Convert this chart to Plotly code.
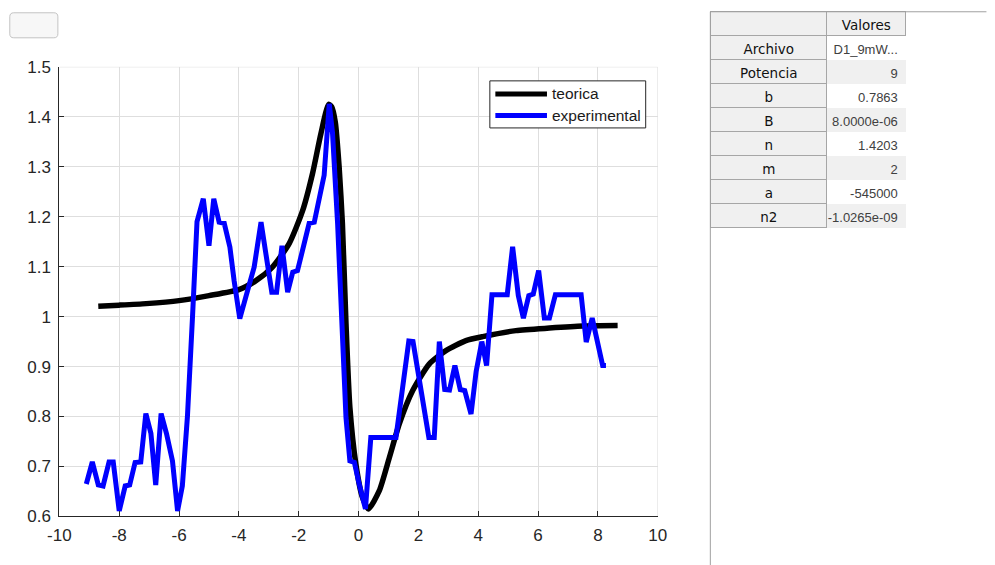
import plotly.graph_objects as go

# ---- data -------------------------------------------------------------
series_names = ["teorica", "experimental"]

x_teo = [-8.70, -8.00, -7.10, -6.00, -5.00, -4.00, -3.43, -2.88, -2.32, -1.87,
         -1.54, -1.26, -1.00, -0.90, -0.78, -0.65, -0.54, -0.42, -0.29, -0.09,
         0.13, 0.33, 0.69, 1.03, 1.36, 1.81, 2.36, 2.92, 3.59, 4.15,
         5.26, 6.38, 7.49, 8.66]
y_teo = [1.021, 1.023, 1.026, 1.032, 1.042, 1.054, 1.072, 1.099, 1.146, 1.212,
         1.286, 1.366, 1.425, 1.420, 1.390, 1.300, 1.186, 0.986, 0.818, 0.705,
         0.638, 0.615, 0.651, 0.718, 0.785, 0.852, 0.905, 0.932, 0.952, 0.960,
         0.972, 0.977, 0.981, 0.982]

x_exp = [-9.10, -8.90, -8.70, -8.54, -8.34, -8.20, -8.00, -7.80, -7.65, -7.47,
         -7.28, -7.11, -6.94, -6.78, -6.60, -6.42, -6.22, -6.05, -5.89, -5.72,
         -5.55, -5.40, -5.19, -5.00, -4.84, -4.66, -4.49, -4.30, -4.16, -3.97,
         -3.77, -3.49, -3.26, -3.08, -2.90, -2.74, -2.56, -2.37, -2.20, -2.04,
         -1.82, -1.65, -1.48, -1.31, -1.15, -0.98, -0.87, -0.70, -0.59, -0.51,
         -0.42, -0.29, -0.14, 0.02, 0.23, 0.41, 1.25, 1.68, 1.82, 2.35,
         2.53, 2.70, 2.88, 3.04, 3.22, 3.40, 3.55, 3.76, 3.93, 4.12,
         4.28, 4.46, 4.97, 5.15, 5.34, 5.51, 5.69, 5.84, 6.02, 6.21,
         6.38, 6.58, 7.44, 7.61, 7.81, 8.16, 8.27]
y_exp = [0.665, 0.709, 0.663, 0.661, 0.709, 0.709, 0.611, 0.661, 0.663, 0.708,
         0.709, 0.806, 0.766, 0.663, 0.806, 0.766, 0.711, 0.611, 0.661, 0.800,
         1.000, 1.190, 1.236, 1.142, 1.236, 1.189, 1.187, 1.139, 1.072, 0.996,
         1.039, 1.099, 1.189, 1.112, 1.049, 1.049, 1.142, 1.049, 1.089, 1.092,
         1.142, 1.187, 1.189, 1.232, 1.283, 1.426, 1.367, 1.186, 1.045, 0.918,
         0.798, 0.711, 0.708, 0.665, 0.615, 0.758, 0.758, 0.951, 0.950, 0.758,
         0.758, 0.950, 0.854, 0.853, 0.902, 0.854, 0.852, 0.805, 0.890, 0.950,
         0.902, 1.044, 1.044, 1.140, 1.042, 0.997, 1.042, 1.045, 1.092, 0.997,
         0.997, 1.044, 1.044, 0.949, 0.997, 0.902, 0.902]

x_ticks = [-10, -8, -6, -4, -2, 0, 2, 4, 6, 8, 10]
x_tick_labels = ["-10", "-8", "-6", "-4", "-2", "0", "2", "4", "6", "8", "10"]
y_ticks = [0.6, 0.7, 0.8, 0.9, 1.0, 1.1, 1.2, 1.3, 1.4, 1.5]
y_tick_labels = ["0.6", "0.7", "0.8", "0.9", "1", "1.1", "1.2", "1.3", "1.4", "1.5"]

table_header = ["", "Valores"]
param_names = ["Archivo", "Potencia", "b", "B", "n", "m", "a", "n2"]
param_values = ["D1_9mW...", "9", "0.7863", "8.0000e-06", "1.4203", "2",
                "-545000", "-1.0265e-09"]

# ---- geometry ---------------------------------------------------------
# Positions are laid out on a 995 x 565 design grid and converted to
# paper fractions of the figure, which sits inside the page body margin.
VIEW_W, VIEW_H = 995, 565
GRID_W, GRID_H = 1012, 585
BODY_MARGIN = 8
W, H = GRID_W - BODY_MARGIN, GRID_H - BODY_MARGIN
SHIFT_X, STRETCH_X, SHIFT_Y = 4.9, 0.9936, 1.0
PLOT_L, PLOT_R, PLOT_T, PLOT_B = 60, 657, 66.5, 515.5


def px(x):
    x = (x - SHIFT_X) / STRETCH_X
    return (x * GRID_W / VIEW_W - BODY_MARGIN) / W


def py(y):
    y = y - SHIFT_Y
    return 1 - (y * GRID_H / VIEW_H - BODY_MARGIN) / H


series_colors = ["#000000", "#0000ff"]

fig = go.Figure()
fig.add_trace(go.Scatter(
    x=x_teo, y=y_teo, mode="lines", name=series_names[0],
    line=dict(color=series_colors[0], width=5.5, shape="spline", smoothing=0.6),
    showlegend=False, hoverinfo="x+y"))
fig.add_trace(go.Scatter(
    x=x_exp, y=y_exp, mode="lines", name=series_names[1],
    line=dict(color=series_colors[1], width=5),
    showlegend=False, hoverinfo="x+y"))

# parameter table
n_rows = len(param_names)
value_fill = ["#ffffff" if i % 2 == 0 else "#f0f0f0" for i in range(n_rows)]
fig.add_trace(go.Table(
    domain=dict(x=[px(710), px(905)], y=[0, py(11.5)]),
    columnwidth=[116, 79],
    header=dict(
        values=table_header,
        fill_color="#f0f0f0",
        line_color=["#a6a6a6", "#a6a6a6"],
        align=["center", "center"],
        font=dict(family="DejaVu Sans", size=13.5, color="#111111"),
        height=24,
    ),
    cells=dict(
        values=[param_names, param_values],
        fill_color=[["#f0f0f0"] * n_rows, value_fill],
        line_color=["#a6a6a6", "rgba(0,0,0,0)"],
        align=["center", "right"],
        font=dict(family=["DejaVu Sans", "Liberation Sans"], size=[13.5, 13],
                  color=["#111111", "#404040"]),
        height=24,
    ),
))

shapes = []
# light frame on the top and right edges of the axes
shapes.append(dict(type="line", xref="x", yref="y", x0=-10, x1=10, y0=1.5, y1=1.5,
                   line=dict(color="#dedede", width=1), layer="below"))
shapes.append(dict(type="line", xref="x", yref="y", x0=10, x1=10, y0=0.6, y1=1.5,
                   line=dict(color="#dedede", width=1), layer="below"))

# legend box
LG_L, LG_R, LG_T, LG_B = 489.5, 645, 80.5, 127.5
shapes.append(dict(type="rect", xref="paper", yref="paper",
                   x0=px(LG_L), x1=px(LG_R), y0=py(LG_B), y1=py(LG_T),
                   fillcolor="#ffffff", line=dict(color="#262626", width=1)))
legend_rows = [93.5, 115]
annotations = []
for name, color, yy in zip(series_names, series_colors, legend_rows):
    shapes.append(dict(type="line", xref="paper", yref="paper",
                       x0=px(495), x1=px(546.5), y0=py(yy), y1=py(yy),
                       line=dict(color=color, width=5)))
    annotations.append(dict(xref="paper", yref="paper", x=px(549.5), y=py(yy),
                            xanchor="left", yanchor="middle", text=name,
                            showarrow=False,
                            font=dict(family="Liberation Sans", size=15.5,
                                      color="#1a1a1a")))

# table container frame
shapes.append(dict(type="line", xref="paper", yref="paper",
                   x0=px(709.5), x1=px(709.5), y0=0, y1=py(11.5),
                   line=dict(color="#a0a0a0", width=1)))
shapes.append(dict(type="line", xref="paper", yref="paper",
                   x0=px(709.5), x1=px(985), y0=py(11.5), y1=py(11.5),
                   line=dict(color="#a0a0a0", width=1)))

# blank push button in the corner
bx0, bx1, by0, by1, r = 10.5, 58.5, 12.5, 37.5, 4
path = (f"M {px(bx0 + r)},{py(by0)} L {px(bx1 - r)},{py(by0)} "
        f"Q {px(bx1)},{py(by0)} {px(bx1)},{py(by0 + r)} "
        f"L {px(bx1)},{py(by1 - r)} "
        f"Q {px(bx1)},{py(by1)} {px(bx1 - r)},{py(by1)} "
        f"L {px(bx0 + r)},{py(by1)} "
        f"Q {px(bx0)},{py(by1)} {px(bx0)},{py(by1 - r)} "
        f"L {px(bx0)},{py(by0 + r)} "
        f"Q {px(bx0)},{py(by0)} {px(bx0 + r)},{py(by0)} Z")
shapes.append(dict(type="path", xref="paper", yref="paper", path=path,
                   fillcolor="#f7f7f7", line=dict(color="#c4c4c4", width=1)))

axis_font = dict(family="Liberation Sans", size=17, color="#262626")
fig.update_layout(
    width=W, height=H,
    margin=dict(l=0, r=0, t=0, b=0),
    paper_bgcolor="#ffffff", plot_bgcolor="#ffffff",
    showlegend=False,
    shapes=shapes, annotations=annotations,
    xaxis=dict(domain=[px(PLOT_L), px(PLOT_R)], range=[-10, 10],
               tickvals=x_ticks, ticktext=x_tick_labels,
               showgrid=True, gridcolor="#dedede", gridwidth=1,
               zeroline=False, showline=True, linecolor="#262626", linewidth=1,
               ticks="inside", ticklen=5, tickcolor="#262626",
               tickfont=axis_font, ticklabelstandoff=3),
    yaxis=dict(domain=[py(PLOT_B), py(PLOT_T)], range=[0.6, 1.5],
               tickvals=y_ticks, ticktext=y_tick_labels,
               showgrid=True, gridcolor="#dedede", gridwidth=1,
               zeroline=False, showline=True, linecolor="#262626", linewidth=1,
               ticks="inside", ticklen=5, tickcolor="#262626",
               tickfont=axis_font, ticklabelstandoff=4),
)

fig.write_html("out.html")
